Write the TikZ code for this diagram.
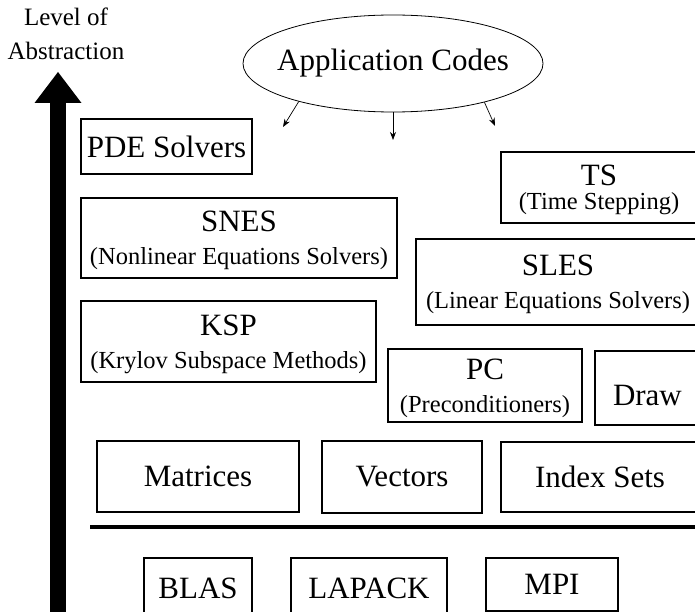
\documentclass[tikz,border=0pt]{standalone}
\usepackage{fontspec}
\setmainfont{Liberation Serif}
\usetikzlibrary{shapes.geometric, arrows.meta}
\newcommand{\mainsize}{\fontsize{31}{33}\selectfont}
\newcommand{\subsize}{\fontsize{24.5}{30}\selectfont}
\newcommand{\lvlsize}{\fontsize{25}{34}\selectfont}

\begin{document}
\begin{tikzpicture}[x=1pt,y=-1pt]
            \tikzset{blk/.style = {draw, line width=1.1pt, rectangle, inner sep=0pt, align=center, font=\mainsize}}
            \tikzset{twoline/.style = {blk, text depth=0pt, execute at begin node={\rule{0pt}{31pt}}}}
            \tikzset{edge/.style = {line width=0.7pt, -{Stealth[length=8pt,width=6pt]}}}
            \useasboundingbox (0,0) rectangle (695,612);
            % vertices
            \node[align=center, font=\lvlsize] (lvl) at (66,34) {Level of\\Abstraction};
            \node[draw, ellipse, line width=0.8pt, inner xsep=-25pt, inner ysep=0pt, minimum width=300pt, minimum height=97pt, font=\mainsize] (app) at (393,63.5) {Application Codes};
            \coordinate (e1) at (283,127);
            \coordinate (e2) at (393,140);
            \coordinate (e3) at (495,126);
            \node[blk, minimum width=171pt, minimum height=55pt] (pde) at (166.5,146.5) {PDE Solvers};
            \node[blk, text depth=0pt, minimum width=196pt, minimum height=71pt] (ts) at (599,187.5) {TS\\[-9pt]{\subsize (Time Stepping)}};
            \node[twoline, minimum width=316pt, minimum height=80pt] (snes) at (239,238) {SNES\\{\subsize (Nonlinear Equations Solvers)}};
            \node[twoline, minimum width=284pt, minimum height=86pt] (sles) at (558,282) {SLES\\{\subsize (Linear Equations Solvers)}};
            \node[twoline, minimum width=295pt, minimum height=81pt] (ksp) at (228.5,341.5) {KSP\\{\subsize (Krylov Subspace Methods)}};
            \node[twoline, minimum width=194pt, minimum height=73pt] (pc) at (485,385.5) {PC\\{\subsize (Preconditioners)}};
            \node[blk, minimum height=74pt, inner xsep=18pt, text width=74pt, text height=34pt, text depth=0pt, align=left] (drw) at (650,388) {Draw};
            \node[blk, minimum width=202pt, minimum height=71pt] (mat) at (198,476.5) {Matrices};
            \node[blk, minimum width=160pt, minimum height=72pt] (vec) at (402,477) {Vectors};
            \node[blk, minimum width=198pt, minimum height=70pt] (idx) at (600,477) {Index Sets};
            \coordinate (rl) at (90,527);
            \coordinate (rr) at (700,527);
            \node[blk, minimum width=108pt, minimum height=60pt] (blas) at (198,588) {BLAS};
            \node[blk, minimum width=156pt, minimum height=60pt] (lapack) at (369,588) {LAPACK};
            \node[blk, minimum width=132pt, minimum height=53pt] (mpi) at (552,584.5) {MPI};
            \coordinate (abot) at (58,620);
            \coordinate (atop) at (58,72);
            %edges
            \draw[edge] (app.202) to (e1);
            \draw[edge] (app.south) to (e2);
            \draw[edge] (app.-23) to (e3);
            \draw[line width=3.5pt] (rl) to (rr);
            \draw[line width=16pt, -{Triangle[length=31pt,width=47pt,line width=0pt]}] (abot) to (atop);
        \end{tikzpicture}
\end{document}
